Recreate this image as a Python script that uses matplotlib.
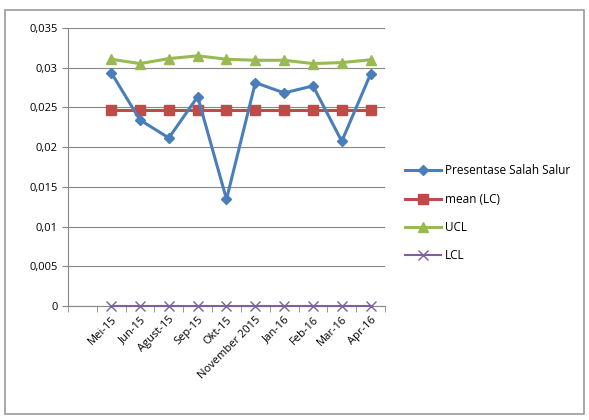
import matplotlib.pyplot as plt
from matplotlib.patches import Rectangle

bulan = ["Mei-15", "Jun-15", "Agust-15", "Sep-15", "Okt-15", "November 2015",
         "Jan-16", "Feb-16", "Mar-16", "Apr-16"]
presentase = [0.02938, 0.02342, 0.02116, 0.02636, 0.01344, 0.02812,
              0.02683, 0.02771, 0.02074, 0.02922]
mean_lc = [0.02464] * 10
ucl = [0.03107, 0.03052, 0.03115, 0.0315, 0.03107, 0.03094,
       0.03094, 0.03052, 0.03065, 0.0310]
lcl = [0.0] * 10

plt.rcParams['font.family'] = ['Open Sans', 'DejaVu Sans']

fig = plt.figure(figsize=(5.89, 4.2), dpi=100)
ax = fig.add_axes([0.1154, 0.2714, 0.5383, 0.6619])

x = list(range(len(bulan)))
ax.plot(x, presentase, '-D', color='#4A7EBB', lw=2.2, ms=5, label='Presentase Salah Salur', zorder=4)
ax.plot(x, mean_lc, '-s', color='#BE4B48', lw=2.2, ms=7, label='mean (LC)', zorder=3)
ax.plot(x, ucl, '-^', color='#98B954', lw=2.2, ms=7, label='UCL', zorder=3)
ax.plot(x, lcl, '-x', color='#7D60A0', lw=1.5, ms=7, mew=1, label='LCL', zorder=3, clip_on=False)

ax.set_ylim(0, 0.035)
ax.set_xlim(-1.5, 9.5)
yt = [0, 0.005, 0.01, 0.015, 0.02, 0.025, 0.03, 0.035]
ax.set_yticks(yt)
ax.set_yticklabels([("%g" % v).replace(".", ",") for v in yt], fontsize=8)
ax.set_xticks(x)
ax.set_xticklabels(bulan, rotation=45, ha='right', rotation_mode='anchor', fontsize=8)
ax.set_xticks([i - 0.5 for i in range(-1, 11)], minor=True)
ax.tick_params(axis='x', which='major', length=0, pad=6)
ax.tick_params(axis='x', which='minor', length=4, color='#868686')
ax.tick_params(axis='y', length=4, color='#868686')

ax.grid(axis='y', color='#868686', lw=0.8)
ax.set_axisbelow(True)
for s in ['top', 'right']:
    ax.spines[s].set_visible(False)
for s in ['left', 'bottom']:
    ax.spines[s].set_color('#868686')

ax.legend(loc='center left', bbox_to_anchor=(1.03, 0.333), frameon=False, fontsize=8.5,
          labelspacing=1.3, handlelength=3, handletextpad=0.4)

fig.patches.append(Rectangle((0.009, 0.014), 0.983, 0.962, transform=fig.transFigure,
                             fill=False, edgecolor='#9a9a9a', lw=1.2))

plt.savefig("out.png")
